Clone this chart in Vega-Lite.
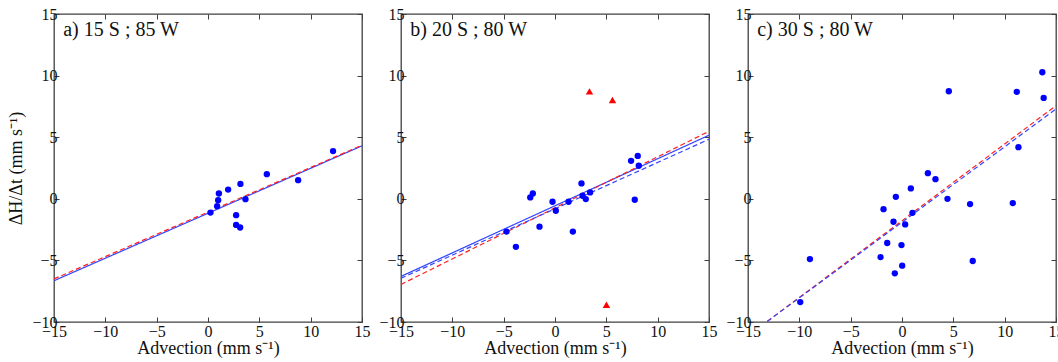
{
  "$schema": "https://vega.github.io/schema/vega-lite/v6.json",
  "background": "white",
  "padding": {"left": 7, "top": 5, "right": 0, "bottom": 0},
  "bounds": "flush",
  "spacing": 39,
  "config": {
    "view": {"stroke": "#404040", "strokeWidth": 1.3},
    "font": "Liberation Serif",
    "axis": {
      "grid": false,
      "domain": false,
      "tickSize": -5,
      "tickColor": "#404040",
      "tickWidth": 1,
      "labelFont": "Liberation Serif",
      "labelFontSize": 16,
      "labelColor": "#111111",
      "labelFlush": false,
      "labelOverlap": false,
      "labelPadding": 2,
      "titleFont": "Liberation Serif",
      "titleFontSize": 18,
      "titleFontWeight": "normal",
      "titleColor": "#111111"
    },
    "axisBottom": {"labelPadding": 6}
  },
  "datasets": {
    "points": [
      {"panel": "a", "kind": "obs", "x": 0.24, "y": -1.12},
      {"panel": "a", "kind": "obs", "x": 1.06, "y": 0.43},
      {"panel": "a", "kind": "obs", "x": 0.99, "y": -0.11},
      {"panel": "a", "kind": "obs", "x": 0.89, "y": -0.6},
      {"panel": "a", "kind": "obs", "x": 1.96, "y": 0.75},
      {"panel": "a", "kind": "obs", "x": 3.16, "y": 1.21},
      {"panel": "a", "kind": "obs", "x": 3.65, "y": -0.03},
      {"panel": "a", "kind": "obs", "x": 2.74, "y": -1.33},
      {"panel": "a", "kind": "obs", "x": 2.74, "y": -2.12},
      {"panel": "a", "kind": "obs", "x": 3.13, "y": -2.33},
      {"panel": "a", "kind": "obs", "x": 5.73, "y": 2.0},
      {"panel": "a", "kind": "obs", "x": 8.78, "y": 1.51},
      {"panel": "a", "kind": "obs", "x": 12.18, "y": 3.87},
      {"panel": "b", "kind": "obs", "x": -4.72, "y": -2.66},
      {"panel": "b", "kind": "obs", "x": -3.81, "y": -3.9},
      {"panel": "b", "kind": "obs", "x": -2.41, "y": 0.11},
      {"panel": "b", "kind": "obs", "x": -2.16, "y": 0.44},
      {"panel": "b", "kind": "obs", "x": -1.51, "y": -2.26},
      {"panel": "b", "kind": "obs", "x": -0.24, "y": -0.24},
      {"panel": "b", "kind": "obs", "x": 0.08, "y": -0.97},
      {"panel": "b", "kind": "obs", "x": 1.32, "y": -0.24},
      {"panel": "b", "kind": "obs", "x": 1.74, "y": -2.66},
      {"panel": "b", "kind": "obs", "x": 2.58, "y": 1.25},
      {"panel": "b", "kind": "obs", "x": 2.68, "y": 0.25},
      {"panel": "b", "kind": "obs", "x": 3.0, "y": -0.02},
      {"panel": "b", "kind": "obs", "x": 3.42, "y": 0.52},
      {"panel": "b", "kind": "obs", "x": 7.41, "y": 3.08},
      {"panel": "b", "kind": "obs", "x": 8.06, "y": 3.48},
      {"panel": "b", "kind": "obs", "x": 8.16, "y": 2.68},
      {"panel": "b", "kind": "obs", "x": 7.77, "y": -0.08},
      {"panel": "b", "kind": "outlier", "x": 3.36, "y": 8.72},
      {"panel": "b", "kind": "outlier", "x": 5.6, "y": 8.02},
      {"panel": "b", "kind": "outlier", "x": 5.01, "y": -8.6},
      {"panel": "c", "kind": "obs", "x": -9.91, "y": -8.38},
      {"panel": "c", "kind": "obs", "x": -8.97, "y": -4.89},
      {"panel": "c", "kind": "obs", "x": -2.09, "y": -4.73},
      {"panel": "c", "kind": "obs", "x": -1.8, "y": -0.84},
      {"panel": "c", "kind": "obs", "x": -1.44, "y": -3.59},
      {"panel": "c", "kind": "obs", "x": -0.83, "y": -1.86},
      {"panel": "c", "kind": "obs", "x": -0.7, "y": -6.05},
      {"panel": "c", "kind": "obs", "x": -0.6, "y": 0.16},
      {"panel": "c", "kind": "obs", "x": -0.05, "y": -3.76},
      {"panel": "c", "kind": "obs", "x": 0.02, "y": -5.43},
      {"panel": "c", "kind": "obs", "x": 0.31, "y": -2.08},
      {"panel": "c", "kind": "obs", "x": 0.86, "y": 0.84},
      {"panel": "c", "kind": "obs", "x": 1.02, "y": -1.14},
      {"panel": "c", "kind": "obs", "x": 2.52, "y": 2.08},
      {"panel": "c", "kind": "obs", "x": 3.26, "y": 1.59},
      {"panel": "c", "kind": "obs", "x": 4.56, "y": 8.73},
      {"panel": "c", "kind": "obs", "x": 4.43, "y": 0.0},
      {"panel": "c", "kind": "obs", "x": 6.63, "y": -0.43},
      {"panel": "c", "kind": "obs", "x": 6.89, "y": -5.05},
      {"panel": "c", "kind": "obs", "x": 10.79, "y": -0.35},
      {"panel": "c", "kind": "obs", "x": 11.18, "y": 8.68},
      {"panel": "c", "kind": "obs", "x": 11.34, "y": 4.19},
      {"panel": "c", "kind": "obs", "x": 13.67, "y": 10.27},
      {"panel": "c", "kind": "obs", "x": 13.8, "y": 8.19}
    ],
    "lines": [
      {"panel": "a", "series": "fit", "x": -15, "y": -6.65},
      {"panel": "a", "series": "fit", "x": 15, "y": 4.3},
      {"panel": "a", "series": "red", "x": -15, "y": -6.5},
      {"panel": "a", "series": "red", "x": 15, "y": 4.35},
      {"panel": "b", "series": "fit", "x": -15, "y": -6.3},
      {"panel": "b", "series": "fit", "x": 15, "y": 5.16},
      {"panel": "b", "series": "red", "x": -15, "y": -6.95},
      {"panel": "b", "series": "red", "x": 15, "y": 5.48},
      {"panel": "b", "series": "bluedash", "x": -15, "y": -6.45},
      {"panel": "b", "series": "bluedash", "x": 15, "y": 4.83},
      {"panel": "c", "series": "red", "x": -15, "y": -11.12},
      {"panel": "c", "series": "red", "x": 15, "y": 7.56},
      {"panel": "c", "series": "bluedash", "x": -15, "y": -11.1},
      {"panel": "c", "series": "bluedash", "x": 15, "y": 7.29}
    ],
    "labels": [
      {"panel": "a", "x": -14.1, "y": 13.7, "label": "a) 15 S ; 85 W"},
      {"panel": "b", "x": -14.1, "y": 13.7, "label": "b) 20 S ; 80 W"},
      {"panel": "c", "x": -14.1, "y": 13.7, "label": "c) 30 S ; 80 W"}
    ]
  },
  "hconcat": [
    {
      "width": 308,
      "height": 308,
      "resolve": {"axis": {"x": "independent", "y": "independent"}},
      "layer": [
        {
          "data": {"name": "lines"},
          "transform": [{"filter": "datum.panel === 'a'"}],
          "mark": {"type": "line", "clip": true, "strokeWidth": 1.2},
          "encoding": {
            "x": {"field": "x", "type": "quantitative", "scale": {"domain": [-15, 15], "nice": false}, "axis": {"orient": "top", "labels": false, "title": null, "values": [-15, -10, -5, 0, 5, 10, 15]}},
            "y": {"field": "y", "type": "quantitative", "scale": {"domain": [-10, 15], "nice": false}, "axis": {"orient": "right", "labels": false, "title": null, "values": [-10, -5, 0, 5, 10, 15]}},
            "detail": {"field": "series"},
            "color": {"field": "series", "type": "nominal", "scale": {"domain": ["fit", "red", "bluedash"], "range": ["#3344ff", "#ff2020", "#3344ff"]}, "legend": null},
            "strokeDash": {"field": "series", "type": "nominal", "scale": {"domain": ["fit", "red", "bluedash"], "range": [[1, 0], [5, 3], [5, 3]]}, "legend": null}
          }
        },
        {
          "data": {"name": "points"},
          "transform": [{"filter": "datum.panel === 'a' && datum.kind === 'obs'"}],
          "mark": {"type": "circle", "size": 40, "opacity": 1, "color": "#0000ff"},
          "encoding": {
            "x": {"field": "x", "type": "quantitative", "scale": {"domain": [-15, 15], "nice": false}, "axis": {"orient": "bottom", "title": "Advection (mm s⁻¹)", "values": [-15, -10, -5, 0, 5, 10, 15], "titlePadding": 0}},
            "y": {"field": "y", "type": "quantitative", "scale": {"domain": [-10, 15], "nice": false}, "axis": {"orient": "left", "title": "ΔH/Δt (mm s⁻¹)", "values": [-10, -5, 0, 5, 10, 15], "titlePadding": 6}}
          }
        },
        {
          "data": {"name": "labels"},
          "transform": [{"filter": "datum.panel === 'a'"}],
          "mark": {"type": "text", "align": "left", "baseline": "middle", "font": "Liberation Serif", "fontSize": 20, "color": "#111111"},
          "encoding": {
            "x": {"field": "x", "type": "quantitative", "scale": {"domain": [-15, 15], "nice": false}, "axis": null},
            "y": {"field": "y", "type": "quantitative", "scale": {"domain": [-10, 15], "nice": false}, "axis": null},
            "text": {"field": "label"}
          }
        }
      ]
    },
    {
      "width": 308,
      "height": 308,
      "resolve": {"axis": {"x": "independent", "y": "independent"}},
      "layer": [
        {
          "data": {"name": "lines"},
          "transform": [{"filter": "datum.panel === 'b'"}],
          "mark": {"type": "line", "clip": true, "strokeWidth": 1.2},
          "encoding": {
            "x": {"field": "x", "type": "quantitative", "scale": {"domain": [-15, 15], "nice": false}, "axis": {"orient": "top", "labels": false, "title": null, "values": [-15, -10, -5, 0, 5, 10, 15]}},
            "y": {"field": "y", "type": "quantitative", "scale": {"domain": [-10, 15], "nice": false}, "axis": {"orient": "right", "labels": false, "title": null, "values": [-10, -5, 0, 5, 10, 15]}},
            "detail": {"field": "series"},
            "color": {"field": "series", "type": "nominal", "scale": {"domain": ["fit", "red", "bluedash"], "range": ["#3344ff", "#ff2020", "#3344ff"]}, "legend": null},
            "strokeDash": {"field": "series", "type": "nominal", "scale": {"domain": ["fit", "red", "bluedash"], "range": [[1, 0], [5, 3], [5, 3]]}, "legend": null}
          }
        },
        {
          "data": {"name": "points"},
          "transform": [{"filter": "datum.panel === 'b' && datum.kind === 'obs'"}],
          "mark": {"type": "circle", "size": 40, "opacity": 1, "color": "#0000ff"},
          "encoding": {
            "x": {"field": "x", "type": "quantitative", "scale": {"domain": [-15, 15], "nice": false}, "axis": {"orient": "bottom", "title": "Advection (mm s⁻¹)", "values": [-15, -10, -5, 0, 5, 10, 15], "titlePadding": 0}},
            "y": {"field": "y", "type": "quantitative", "scale": {"domain": [-10, 15], "nice": false}, "axis": {"orient": "left", "title": null, "values": [-10, -5, 0, 5, 10, 15]}}
          }
        },
        {
          "data": {"name": "points"},
          "transform": [{"filter": "datum.panel === 'b' && datum.kind === 'outlier'"}],
          "mark": {"type": "point", "shape": "triangle-up", "size": 55, "filled": true, "opacity": 1, "color": "#ff0000"},
          "encoding": {
            "x": {"field": "x", "type": "quantitative", "scale": {"domain": [-15, 15], "nice": false}, "axis": null},
            "y": {"field": "y", "type": "quantitative", "scale": {"domain": [-10, 15], "nice": false}, "axis": null}
          }
        },
        {
          "data": {"name": "labels"},
          "transform": [{"filter": "datum.panel === 'b'"}],
          "mark": {"type": "text", "align": "left", "baseline": "middle", "font": "Liberation Serif", "fontSize": 20, "color": "#111111"},
          "encoding": {
            "x": {"field": "x", "type": "quantitative", "scale": {"domain": [-15, 15], "nice": false}, "axis": null},
            "y": {"field": "y", "type": "quantitative", "scale": {"domain": [-10, 15], "nice": false}, "axis": null},
            "text": {"field": "label"}
          }
        }
      ]
    },
    {
      "width": 308,
      "height": 308,
      "resolve": {"axis": {"x": "independent", "y": "independent"}},
      "layer": [
        {
          "data": {"name": "lines"},
          "transform": [{"filter": "datum.panel === 'c'"}],
          "mark": {"type": "line", "clip": true, "strokeWidth": 1.2},
          "encoding": {
            "x": {"field": "x", "type": "quantitative", "scale": {"domain": [-15, 15], "nice": false}, "axis": {"orient": "top", "labels": false, "title": null, "values": [-15, -10, -5, 0, 5, 10, 15]}},
            "y": {"field": "y", "type": "quantitative", "scale": {"domain": [-10, 15], "nice": false}, "axis": {"orient": "right", "labels": false, "title": null, "values": [-10, -5, 0, 5, 10, 15]}},
            "detail": {"field": "series"},
            "color": {"field": "series", "type": "nominal", "scale": {"domain": ["fit", "red", "bluedash"], "range": ["#3344ff", "#ff2020", "#3344ff"]}, "legend": null},
            "strokeDash": {"field": "series", "type": "nominal", "scale": {"domain": ["fit", "red", "bluedash"], "range": [[1, 0], [5, 3], [5, 3]]}, "legend": null}
          }
        },
        {
          "data": {"name": "points"},
          "transform": [{"filter": "datum.panel === 'c' && datum.kind === 'obs'"}],
          "mark": {"type": "circle", "size": 40, "opacity": 1, "color": "#0000ff"},
          "encoding": {
            "x": {"field": "x", "type": "quantitative", "scale": {"domain": [-15, 15], "nice": false}, "axis": {"orient": "bottom", "title": "Advection (mm s⁻¹)", "values": [-15, -10, -5, 0, 5, 10, 15], "titlePadding": 0}},
            "y": {"field": "y", "type": "quantitative", "scale": {"domain": [-10, 15], "nice": false}, "axis": {"orient": "left", "title": null, "values": [-10, -5, 0, 5, 10, 15]}}
          }
        },
        {
          "data": {"name": "labels"},
          "transform": [{"filter": "datum.panel === 'c'"}],
          "mark": {"type": "text", "align": "left", "baseline": "middle", "font": "Liberation Serif", "fontSize": 20, "color": "#111111"},
          "encoding": {
            "x": {"field": "x", "type": "quantitative", "scale": {"domain": [-15, 15], "nice": false}, "axis": null},
            "y": {"field": "y", "type": "quantitative", "scale": {"domain": [-10, 15], "nice": false}, "axis": null},
            "text": {"field": "label"}
          }
        }
      ]
    }
  ]
}
